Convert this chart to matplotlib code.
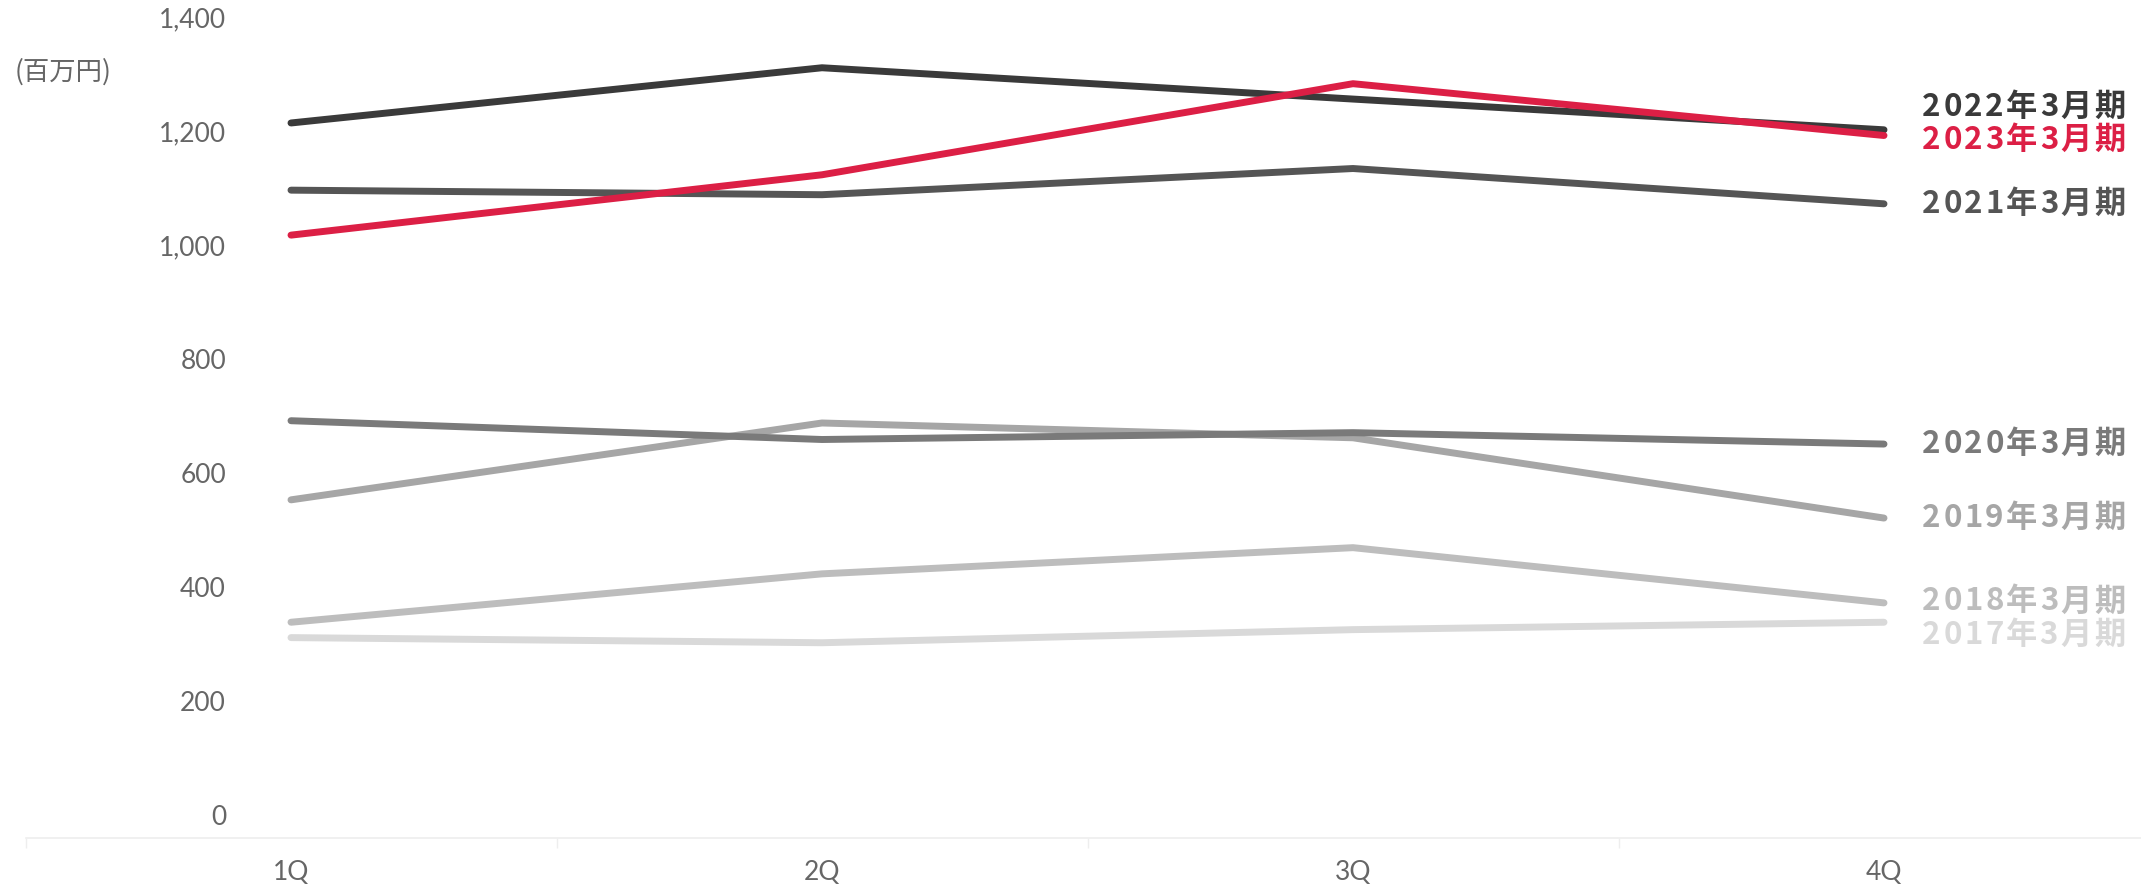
import matplotlib
matplotlib.use("Agg")
import matplotlib.pyplot as plt
from matplotlib.font_manager import FontProperties

# quarterly figures (百万円), one list per fiscal year
quarters = ["1Q", "2Q", "3Q", "4Q"]
fy2017 = [352, 343, 366, 379]
fy2018 = [379, 464, 510, 413]
fy2019 = [594, 729, 703, 562]
fy2020 = [733, 700, 712, 692]
fy2021 = [1138, 1130, 1176, 1114]
fy2022 = [1256, 1353, 1298, 1244]
fy2023 = [1059, 1165, 1325, 1234]

names = ["2017年3月期", "2018年3月期", "2019年3月期", "2020年3月期",
         "2021年3月期", "2022年3月期", "2023年3月期"]
series = [fy2017, fy2018, fy2019, fy2020, fy2021, fy2022, fy2023]
colors = ["#d9d9d9", "#bdbdbd", "#a6a6a6", "#7a7a7a",
          "#555555", "#3a3a3a", "#dc1f45"]
# vertical nudge (points) of the end labels so they don't collide
nudge = [-9, 1, 0, 0, 0, 16.5, -3.5]

yticks = [0, 200, 400, 600, 800, 1000, 1200, 1400]
ytick_labels = ["0", "200", "400", "600", "800", "1,000", "1,200", "1,400"]

plt.rcParams["font.family"] = ["Noto Sans CJK JP", "DejaVu Sans"]

W, H = 2141, 886
fig = plt.figure(figsize=(W / 100, H / 100), dpi=100)
ax = fig.add_axes([25.5 / W, 48 / H, 2124 / W, 797 / H])
renderer = fig.canvas.get_renderer()

label_font = FontProperties(family=["Noto Sans CJK JP", "DejaVu Sans"],
                            size=22.5, weight="bold")
tracking = 1.8  # extra points between letters


def spaced_label(text, xy, dx, dy, color):
    # draw letter by letter to get a little letter spacing
    for i, ch in enumerate(text):
        w = 0.0
        if i:
            w, _, _ = renderer.get_text_width_height_descent(
                text[:i], label_font, ismath=False)
        off = dx + w * 72 / fig.dpi + i * tracking
        ax.annotate(ch, xy=xy, xytext=(off, dy), textcoords="offset points",
                    ha="left", va="center", color=color,
                    fontproperties=label_font)


x = list(range(len(quarters)))
for vals, name, c, dy in zip(series, names, colors, nudge):
    ax.plot(x, vals, color=c, lw=5, solid_capstyle="round",
            solid_joinstyle="round")
    spaced_label(name, (x[-1], vals[-1]), 27.5, dy, c)

ax.set_xlim(-0.5, 3.5)
ax.set_ylim(0, 1400)

# x axis: category labels, small ticks between categories
ax.set_xticks(x)
ax.set_xticklabels(quarters, fontsize=19, color="#666666",
                   family=["Lato", "DejaVu Sans"])
ax.set_xticks([-0.5, 0.5, 1.5, 2.5, 3.5], minor=True)
ax.tick_params(axis="x", which="major", length=0, pad=16)
ax.tick_params(axis="x", which="minor", length=7, color="#eeeeee", width=1)

# y axis labels drawn a bit above their level
ax.set_yticks([])
for v, lab in zip(yticks, ytick_labels):
    ax.annotate(lab, xy=(0.0944, v), xycoords=ax.get_yaxis_transform(),
                xytext=(0, 15), textcoords="offset points",
                ha="right", va="center", fontsize=19, color="#666666",
                family=["Lato", "DejaVu Sans"])

for s in ["top", "right", "left"]:
    ax.spines[s].set_visible(False)
ax.spines["bottom"].set_color("#eeeeee")
ax.spines["bottom"].set_linewidth(1.2)

fig.text(15 / W, 1 - 72 / H, "(百万円)", ha="left", va="center",
         fontsize=19, color="#666666")

fig.savefig("out.png", dpi=100, facecolor="white")
